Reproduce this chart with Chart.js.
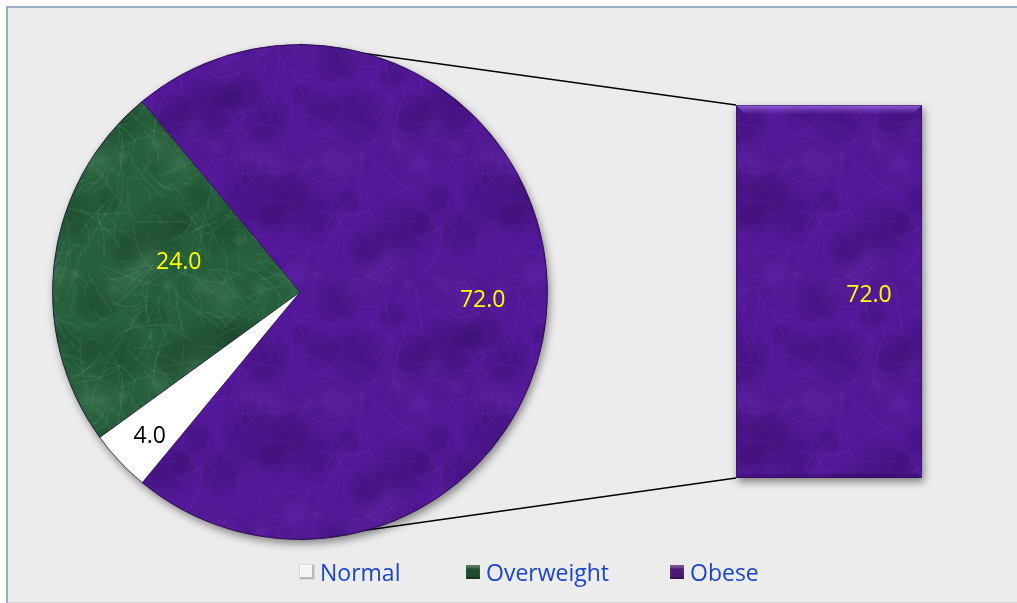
<!DOCTYPE html>
<html>
<head>
<meta charset="utf-8">
<script src="https://cdn.jsdelivr.net/npm/chart.js@4.4.1/dist/chart.umd.min.js"></script>
<style>
  html, body { margin: 0; padding: 0; background: #ffffff; }
  #wrap { position: relative; width: 1017px; height: 603px; overflow: hidden; font-family: "Open Sans", sans-serif; }
  #panel { position: absolute; left: 6px; top: 6px; width: 1030px; height: 594px; background: #ececec;
           border-top: 2px solid #9aadc6; border-left: 2px solid #9aadc6; border-bottom: 1px solid #c8d3df; }
  canvas { position: absolute; left: 0; top: 0; }
  #legend { position: absolute; left: 0; top: 556px; width: 1017px; height: 32px; }
  .item { position: absolute; top: 0; height: 32px; display: flex; align-items: center;
          font-size: 23px; color: #1b45c9; white-space: nowrap; }
  .swatch { width: 14px; height: 14px; margin-right: 6px; box-sizing: border-box; position: relative; }
</style>
</head>
<body>
<div id="wrap">
  <div id="panel"></div>
  <canvas id="barCanvas" width="1017" height="603"></canvas>
  <canvas id="pieCanvas" width="1017" height="603"></canvas>
  <div id="legend"></div>
</div>
<script>
// Weight status shares (%)
const categories = ['Normal', 'Overweight', 'Obese'];
const shares = [4.0, 24.0, 72.0];
// Secondary bar breaking out the last slice
const barCategories = ['Obese'];
const barValues = [72.0];

// Styling
const swatchColors = ['#f4f4f4', '#1f4b2e', '#4a1a72'];
const labelColors = ['#000000', '#ffff00', '#ffff00'];
const legendLeft = [300, 466, 670];
// label placement per slice: fraction of radius, angular nudge (deg)
const labelRadius = [0.843, 0.504, 0.739];
const labelNudge = [-0.7, 6.4, 2.8];

// mottled, fibrous fill texture
function makeTexture(base, light, dark, count) {
  const size = 240;
  const c = document.createElement('canvas');
  c.width = size; c.height = size;
  const g = c.getContext('2d');
  g.fillStyle = base;
  g.fillRect(0, 0, size, size);
  // soft blotches
  for (let i = 0; i < 40; i++) {
    const x = (i * 97) % size, y = (i * 61 + (i * i) % 37) % size;
    const rad = 12 + (i * 13) % 28;
    for (const dx of [-size, 0, size]) {
      for (const dy of [-size, 0, size]) {
        const rg = g.createRadialGradient(x + dx, y + dy, 0, x + dx, y + dy, rad);
        rg.addColorStop(0, i % 2 ? dark : light);
        rg.addColorStop(1, 'rgba(0,0,0,0)');
        g.globalAlpha = i % 2 ? 0.28 : 0.14;
        g.fillStyle = rg;
        g.fillRect(x + dx - rad, y + dy - rad, rad * 2, rad * 2);
      }
    }
  }
  // fibres
  g.lineCap = 'round';
  for (let i = 0; i < count; i++) {
    const a = i * 2.39996;
    const x0 = (i * 73) % size;
    const y0 = (i * 151 + (i * 7) % 19) % size;
    const len = 12 + (i * 37) % 50;
    const bend = ((i * 29) % 24) - 12;
    const x1 = x0 + Math.cos(a) * len, y1 = y0 + Math.sin(a) * len;
    const mx = (x0 + x1) / 2 + Math.cos(a + Math.PI / 2) * bend;
    const my = (y0 + y1) / 2 + Math.sin(a + Math.PI / 2) * bend;
    g.strokeStyle = i % 3 === 0 ? dark : light;
    g.globalAlpha = i % 3 === 0 ? 0.16 : 0.09;
    g.lineWidth = 0.7 + (i % 3) * 0.5;
    for (const dx of [-size, 0, size]) {
      for (const dy of [-size, 0, size]) {
        g.beginPath();
        g.moveTo(x0 + dx, y0 + dy);
        g.quadraticCurveTo(mx + dx, my + dy, x1 + dx, y1 + dy);
        g.stroke();
      }
    }
  }
  g.globalAlpha = 1;
  return g.createPattern(c, 'repeat');
}

const purpleTex = makeTexture('#53189a', '#8c4cd8', '#2a0658', 320);
const greenTex = makeTexture('#27603c', '#9ad8b0', '#103620', 340);

// ---- bar of the broken-out slice ----
const barChart = new Chart(document.getElementById('barCanvas'), {
  type: 'bar',
  data: {
    labels: barCategories,
    datasets: [{
      data: barValues,
      backgroundColor: purpleTex,
      borderWidth: 0,
      barPercentage: 1,
      categoryPercentage: 1
    }]
  },
  options: {
    responsive: false,
    animation: false,
    layout: { padding: { left: 736, right: 95, top: 105, bottom: 125 } },
    scales: {
      x: { display: false },
      y: { display: false, min: 0, max: barValues.reduce((s, v) => s + v, 0) }
    },
    plugins: { legend: { display: false }, tooltip: { enabled: false } }
  },
  plugins: [{
    id: 'barDecor',
    beforeDatasetsDraw(chart) {
      const ctx = chart.ctx;
      chart.getDatasetMeta(0).data.forEach(el => {
        ctx.save();
        ctx.shadowColor = 'rgba(0,0,0,0.45)';
        ctx.shadowBlur = 8;
        ctx.shadowOffsetX = 2;
        ctx.shadowOffsetY = 4;
        ctx.fillStyle = '#53189a';
        ctx.fillRect(el.x - el.width / 2, el.y, el.width, el.base - el.y);
        ctx.restore();
      });
    },
    afterDatasetsDraw(chart) {
      const ctx = chart.ctx;
      chart.getDatasetMeta(0).data.forEach((el, i) => {
        const l = el.x - el.width / 2, r = el.x + el.width / 2, t = el.y, b = el.base;
        ctx.save();
        // bevel: light top band, darker lower edge
        const bevel = 9;
        const g = ctx.createLinearGradient(0, t, 0, t + bevel);
        g.addColorStop(0, 'rgba(180,130,250,0.7)');
        g.addColorStop(1, 'rgba(150,90,230,0.05)');
        ctx.fillStyle = g;
        ctx.beginPath();
        ctx.moveTo(l, t); ctx.lineTo(r, t); ctx.lineTo(r - bevel, t + bevel); ctx.lineTo(l + bevel, t + bevel); ctx.closePath();
        ctx.fill();
        ctx.fillStyle = 'rgba(30,0,60,0.25)';
        ctx.beginPath();
        ctx.moveTo(l, b); ctx.lineTo(r, b); ctx.lineTo(r - 4, b - 4); ctx.lineTo(l + 4, b - 4); ctx.closePath();
        ctx.fill();
        ctx.strokeStyle = 'rgba(40,10,70,0.45)';
        ctx.lineWidth = 1;
        ctx.strokeRect(l + 0.5, t + 0.5, el.width - 1, b - t - 1);
        // value label
        ctx.fillStyle = '#ffff00';
        ctx.font = '23px "Open Sans", sans-serif';
        ctx.textAlign = 'center';
        ctx.textBaseline = 'middle';
        ctx.fillText(barValues[i].toFixed(1), el.x + 40, (t + b) / 2 + 4);
        ctx.restore();
      });
    }
  }]
});

// ---- main pie ----
const pieChart = new Chart(document.getElementById('pieCanvas'), {
  type: 'pie',
  data: {
    labels: categories,
    datasets: [{
      data: shares,
      backgroundColor: ['#ffffff', greenTex, purpleTex],
      borderColor: 'rgba(35,10,50,0.4)',
      borderWidth: 1
    }]
  },
  options: {
    responsive: false,
    animation: false,
    rotation: 219.6,
    layout: { padding: { left: 52, top: 44, right: 469, bottom: 63 } },
    plugins: { legend: { display: false }, tooltip: { enabled: false } }
  },
  plugins: [{
    id: 'pieDecor',
    beforeDatasetsDraw(chart) {
      const ctx = chart.ctx;
      const arc = chart.getDatasetMeta(0).data[0];
      const cx = arc.x, cy = arc.y, R = arc.outerRadius;
      // connector lines to the breakout bar
      const bar = barChart.getDatasetMeta(0).data[0];
      const bl = bar.x - bar.width / 2;
      ctx.save();
      ctx.strokeStyle = '#000000';
      ctx.lineWidth = 1.3;
      ctx.beginPath();
      ctx.moveTo(cx, cy - R); ctx.lineTo(bl, bar.y);
      ctx.moveTo(cx, cy + R); ctx.lineTo(bl, bar.base);
      ctx.stroke();
      // soft drop shadow under the pie
      ctx.shadowColor = 'rgba(0,0,0,0.45)';
      ctx.shadowBlur = 9;
      ctx.shadowOffsetX = 2;
      ctx.shadowOffsetY = 4;
      ctx.fillStyle = '#53189a';
      ctx.beginPath();
      ctx.arc(cx, cy, R, 0, Math.PI * 2);
      ctx.fill();
      ctx.restore();
    },
    afterDatasetsDraw(chart) {
      const ctx = chart.ctx;
      const meta = chart.getDatasetMeta(0);
      ctx.save();
      // subtle dark rim
      const a0 = meta.data[0];
      ctx.strokeStyle = 'rgba(25,5,40,0.4)';
      ctx.lineWidth = 1;
      ctx.beginPath();
      ctx.arc(a0.x, a0.y, a0.outerRadius, 0, Math.PI * 2);
      ctx.stroke();
      ctx.font = '23px "Open Sans", sans-serif';
      ctx.textAlign = 'center';
      ctx.textBaseline = 'middle';
      meta.data.forEach((el, i) => {
        const mid = (el.startAngle + el.endAngle) / 2 + labelNudge[i] * Math.PI / 180;
        const rr = el.outerRadius * labelRadius[i];
        ctx.fillStyle = labelColors[i];
        ctx.fillText(shares[i].toFixed(1), el.x + Math.cos(mid) * rr, el.y + Math.sin(mid) * rr);
      });
      ctx.restore();
    }
  }]
});

// ---- legend ----
const legend = document.getElementById('legend');
categories.forEach((name, i) => {
  const item = document.createElement('div');
  item.className = 'item';
  item.style.left = legendLeft[i] + 'px';
  const sw = document.createElement('span');
  sw.className = 'swatch';
  sw.style.background = swatchColors[i];
  sw.style.boxShadow = i === 0
    ? 'inset -2px -2px 0 #b8b8b8, inset 1px 1px 0 #ffffff, 0 0 0 0.5px #c9c9c9'
    : 'inset 0 3px 2px rgba(255,255,255,0.25), inset 0 -2px 1px rgba(0,0,0,0.3)';
  const tx = document.createElement('span');
  tx.textContent = name;
  item.appendChild(sw);
  item.appendChild(tx);
  legend.appendChild(item);
});
</script>
</body>
</html>
